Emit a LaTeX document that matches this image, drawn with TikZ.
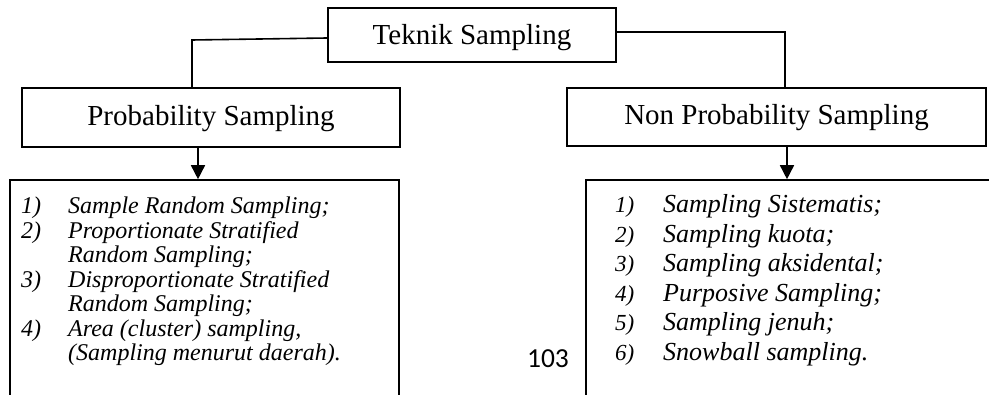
\documentclass[tikz,border=0pt]{standalone}
\usepackage{fontspec}
\setmainfont{Liberation Serif}
\newfontfamily\pagenumfont{Carlito}
\usetikzlibrary{arrows.meta}
\begin{document}
\begin{tikzpicture}[x=1pt,y=-1pt,
  frame/.style={draw=black, line width=1.6pt, inner sep=0pt},
  head/.style={font=\fontsize{29}{34}\selectfont, inner sep=0pt, anchor=base},
  litem/.style={font=\fontsize{24}{28}\selectfont\itshape, inner sep=0pt, anchor=base west},
  ritem/.style={font=\fontsize{26}{30}\selectfont\itshape, inner sep=0pt, anchor=base west},
  rnum/.style={font=\fontsize{23}{27}\selectfont\itshape, inner sep=0pt, anchor=base west},
  conn/.style={line width=1.6pt},
  arr/.style={line width=1.6pt, -{Triangle[width=14pt,length=14pt]}}]
\useasboundingbox (0,0) rectangle (989,395);

% header boxes
\node[frame, minimum width=288pt, minimum height=54pt] (top) at (472,35) {};
\node[head] (toptext) at (472,45) {Teknik Sampling};
\node[frame, minimum width=378pt, minimum height=59pt] (prob) at (211,117.5) {};
\node[head] (probtext) at (211,126) {Probability Sampling};
\node[frame, minimum width=419pt, minimum height=58pt] (nonprob) at (776.5,117) {};
\node[head] (nonprobtext) at (776.5,125) {Non Probability Sampling};

% list boxes (bottom runs off the page)
\node[frame, minimum width=389pt, minimum height=240pt] (llist) at (204.5,300) {};
\node[frame, minimum width=424pt, minimum height=240pt] (rlist) at (798,300) {};

% connectors
\coordinate (lc) at (192,40);
\draw[conn] ([yshift=-3pt]top.west) -- (lc) -- (lc |- prob.north);
\coordinate (rc) at (785,32);
\draw[conn] ([yshift=3pt]top.east) -- (rc) -- (rc |- nonprob.north);

% arrows
\draw[arr] ([xshift=-13pt]prob.south) -- ([xshift=-13pt]prob.south |- llist.north);
\draw[arr] ([xshift=10.5pt]nonprob.south) -- ([xshift=10.5pt]nonprob.south |- rlist.north);

% left list
\node[litem] (ln1) at (21,214) {1)};
\node[litem] (lt1) at (68,214) {Sample Random Sampling;};
\node[litem] (ln2) at (21,238.5) {2)};
\node[litem] (lt2) at (68,238.5) {Proportionate Stratified};
\node[litem] (lt2b) at (68,263) {Random Sampling;};
\node[litem] (ln3) at (21,287.5) {3)};
\node[litem] (lt3) at (68,287.5) {Disproportionate Stratified};
\node[litem] (lt3b) at (68,312) {Random Sampling;};
\node[litem] (ln4) at (21,336.5) {4)};
\node[litem] (lt4) at (68,336.5) {Area (cluster) sampling,};
\node[litem] (lt4b) at (68,361) {(Sampling menurut daerah).};

% right list
\node[rnum] (rn1) at (615,213) {1)};
\node[ritem] (rt1) at (663,213) {Sampling Sistematis;};
\node[rnum] (rn2) at (615,242.5) {2)};
\node[ritem] (rt2) at (663,242.5) {Sampling kuota;};
\node[rnum] (rn3) at (615,272) {3)};
\node[ritem] (rt3) at (663,272) {Sampling aksidental;};
\node[rnum] (rn4) at (615,301.5) {4)};
\node[ritem] (rt4) at (663,301.5) {Purposive Sampling;};
\node[rnum] (rn5) at (615,331) {5)};
\node[ritem] (rt5) at (663,331) {Sampling jenuh;};
\node[rnum] (rn6) at (615,360.5) {6)};
\node[ritem] (rt6) at (663,360.5) {Snowball sampling.};

% page number
\node[font=\pagenumfont\fontsize{27.5}{32}\selectfont, inner sep=0pt, anchor=base] (pagenum) at (548,368) {103};
\end{tikzpicture}
\end{document}
